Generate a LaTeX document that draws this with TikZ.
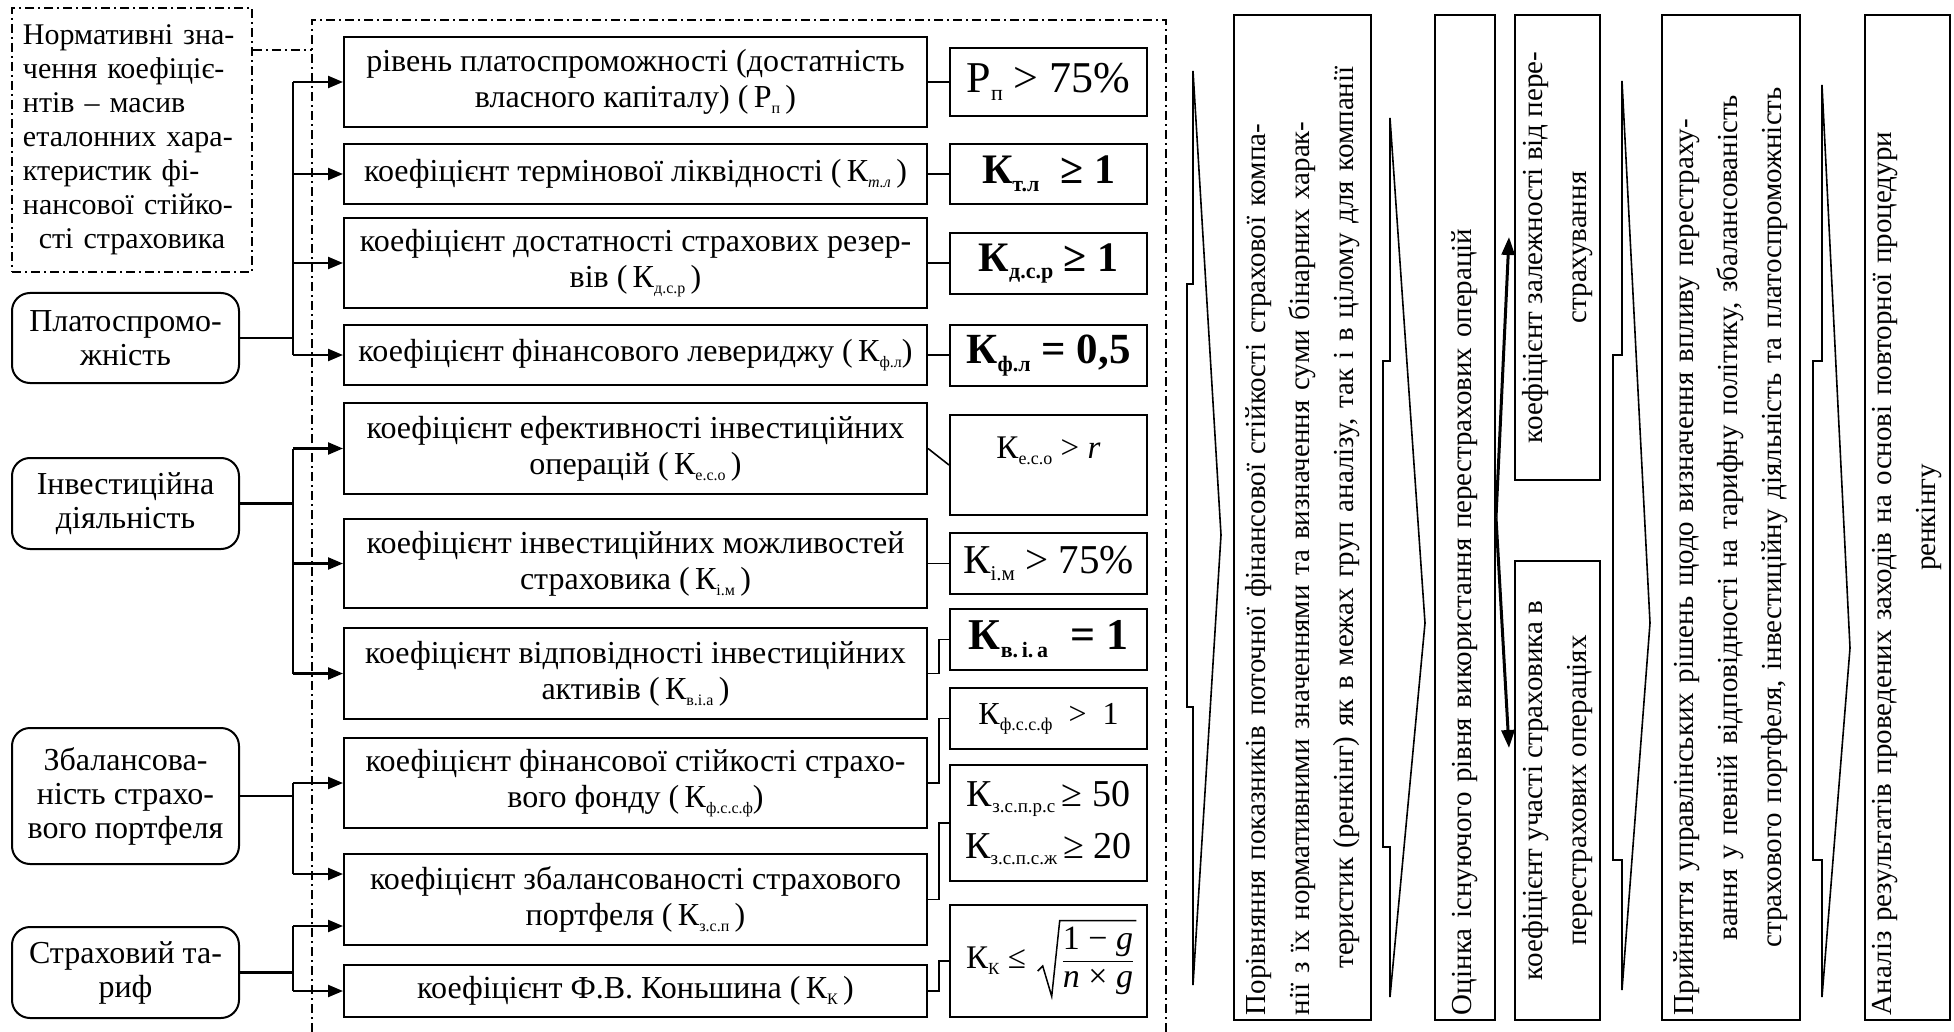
\documentclass[tikz,border=0pt]{standalone}
\usepackage{fontspec}
\setmainfont{Liberation Serif}
\usetikzlibrary{arrows.meta,calc}
% lowered small index of a coefficient symbol
\newcommand\subx[2][16]{\raisebox{-0.4ex}{\fontsize{#1}{#1}\selectfont #2}}
\newcommand\fsz[2]{\fontsize{#1}{#2}\selectfont}
% a justified line stretched over the whole text width
\newcommand\jl[1]{\makebox[\linewidth][s]{#1}}
\begin{document}
\begin{tikzpicture}[x=1pt,y=-1pt,
  box/.style={draw, line width=2pt, inner sep=2pt, align=center, font=\fsz{32}{36}},
  grp/.style={box, rounded corners=18pt, minimum width=227pt, font=\fsz{32}{34}},
  mid/.style={box, minimum width=583pt},
  val/.style={box, minimum width=197pt},
  side/.style={box, rotate=90, font=\fsz{29}{44}},
  frame/.style={line width=1.5pt, dash pattern=on 9pt off 4pt on 2pt off 4pt},
  link/.style={line width=2.3pt},
  thin/.style={line width=1.6pt},
  arr/.style={link, -{Triangle[length=15pt,width=12pt]}},
  fork/.style={line width=3pt, -{Triangle[length=18pt,width=13pt]}},
  chev/.style={line width=1.6pt, line join=miter},
  radical/.style={line width=1.5pt, line join=miter}]
\fill[white] (0,0) rectangle (1954,1032);
\useasboundingbox (0,0) rectangle (1954,1032);

% reference values and the four groups of indicators
\node[box, frame, minimum width=240pt, minimum height=264pt, text width=218pt, font=\fsz{30}{34}] (norm) at (132,140)
  {\jl{Нормативні зна-}\\\jl{чення коефіціє-}\\\jl{нтів – масив}\\\jl{еталонних хара-}\\\jl{ктеристик фі-}\\\jl{нансової стійко-}\\сті страховика};
\node[grp, minimum height=90pt] (g1) at (125.5,338) {Платоспромо-\\жність};
\node[grp, minimum height=91pt] (g2) at (125.5,503.5) {Інвестиційна\\діяльність};
\node[grp, minimum height=136pt] (g3) at (125.5,796) {Збалансова-\\ність страхо-\\вого портфеля};
\node[grp, minimum height=91pt] (g4) at (125.5,972.5) {Страховий та-\\риф};

% coefficients
\node[mid, minimum height=90pt] (m1) at (635.5,82) {рівень платоспроможності (достатність\\власного капіталу) (\,Р\subx{п}\,)};
\node[mid, minimum height=60pt] (m2) at (635.5,174) {коефіцієнт термінової ліквідності (\,К\subx{\itshape т.л}\,)};
\node[mid, minimum height=90pt] (m3) at (635.5,263) {коефіцієнт достатності страхових резер-\\вів (\,К\subx{д.с.р}\,)};
\node[mid, minimum height=60pt] (m4) at (635.5,355) {коефіцієнт фінансового левериджу (\,К\subx{ф.л})};
\node[mid, minimum height=91pt] (m5) at (635.5,448.5) {коефіцієнт ефективності інвестиційних\\операцій (\,К\subx{е.с.о}\,)};
\node[mid, minimum height=89pt] (m6) at (635.5,563.5) {коефіцієнт інвестиційних можливостей\\страховика (\,К\subx{і.м}\,)};
\node[mid, minimum height=91pt] (m7) at (635.5,673.5) {коефіцієнт відповідності інвестиційних\\активів (\,К\subx{в.і.а}\,)};
\node[mid, minimum height=90pt] (m8) at (635.5,783) {коефіцієнт фінансової стійкості страхо-\\вого фонду (\,К\subx{ф.с.с.ф})};
\node[mid, minimum height=91pt] (m9) at (635.5,899.5) {коефіцієнт збалансованості страхового\\портфеля (\,К\subx{з.с.п}\,)};
\node[mid, minimum height=52pt] (m10) at (635.5,991) {коефіцієнт Ф.В. Коньшина (\,К\subx{К}\,)};

% normative values
\node[val, minimum height=68pt, font=\fsz{44}{44}] (v1) at (1048.5,82) {Р\subx[22]{п} > 75\%};
\node[val, minimum height=60pt, font=\fsz{42}{42}\bfseries] (v2) at (1048.5,174) {К\subx[22]{т.л}\ \ ≥ 1};
\node[val, minimum height=61pt, font=\fsz{42}{42}\bfseries] (v3) at (1048.5,263.5) {К\subx[22]{д.с.р} ≥ 1};
\node[val, minimum height=61pt, font=\fsz{43}{43}\bfseries] (v4) at (1048.5,355.5) {К\subx[22]{ф.л} = 0,5};
\node[val, minimum height=100pt, font=\fsz{33}{33}] (v5) at (1048.5,465) {\raisebox{34pt}{К\subx[18]{е.с.о} > \textit{r}}};
\node[val, minimum height=61pt, font=\fsz{41}{41}] (v6) at (1048.5,563.5) {К\subx[21]{і.м} > 75\%};
\node[val, minimum height=61pt, font=\fsz{44}{44}\bfseries] (v7) at (1048.5,639.5) {К\subx[22]{в.\,і.\,а}\ \ = 1};
\node[val, minimum height=61pt, font=\fsz{32}{32}] (v8) at (1048.5,718.5) {К\subx[18]{ф.с.с.ф}\ \ > \ 1};
\node[val, minimum height=116pt, font=\fsz{38}{52}] (v9) at (1048.5,823) {К\subx[19]{з.с.п.р.с}\,≥ 50\\К\subx[19]{з.с.п.с.ж}\,≥ 20};
\node[val, minimum height=112pt] (v10) at (1048.5,961) {};
% Konshyn bound: symbol, fraction and its root sign
\node[font=\fsz{33}{33}, inner sep=0pt] (v10k) at (996,961) {К\subx[17]{К} ≤};
\node[font=\fsz{34}{37}, inner sep=0pt] (v10f) at (1098,961)
  {\begin{tabular}{@{}c@{}}1 − \textit{g}\\\hline\textit{n} × \textit{g}\end{tabular}};
\draw[radical] ($(v10f.west)+(-25,10)$) -- ($(v10f.west)+(-20,5)$)
  -- ($(v10f.south west)+(-11,-2)$) -- ($(v10f.north west)+(-3,-3)$) -- ($(v10f.north east)+(3,-3)$);

% stages of the analysis
\node[side, minimum width=1005pt, minimum height=137pt, text width=995pt] (A) at (1302.5,517.5)
  {\jl{Порівняння показників поточної фінансової стійкості страхової компа-}\\\jl{нії з їх нормативними значеннями та визначення суми бінарних харак-}\\теристик (ренкінг) як в межах груп аналізу, так і в цілому для компанії};
\node[side, minimum width=1005pt, minimum height=60pt, text width=995pt, align=left] (B) at (1465,517.5)
  {Оцінка існуючого рівня використання перестрахових операцій};
\node[side, minimum width=465pt, minimum height=85pt] (C) at (1557.5,247.5) {коефіцієнт залежності від пере-\\страхування};
\node[side, minimum width=459pt, minimum height=85pt] (D) at (1557.5,790.5) {коефіцієнт участі страховика в\\перестрахових операціях};
\node[side, minimum width=1005pt, minimum height=138pt, text width=995pt] (E) at (1731,517.5)
  {\jl{Прийняття управлінських рішень щодо визначення впливу перестраху-}\\вання у певній відповідності на тарифну політику, збалансованість\\страхового портфеля, інвестиційну діяльність та платоспроможність};
\node[side, minimum width=1005pt, minimum height=85pt, text width=995pt] (F) at (1907.5,517.5)
  {\jl{Аналіз результатів проведених заходів на основі повторної процедури}\\ренкінгу};

% dash-dot frame round the coefficient block
\coordinate (ftl) at (312,20);
\coordinate (ftr) at (1166,20);
\coordinate (fbl) at (312,1032);
\coordinate (fbr) at (1166,1032);
\coordinate (fj) at (312,50);
\draw[frame] (fbl) -- (ftl) -- (ftr) -- (fbr);
\draw[frame] (norm.east |- fj) -- (fj);

% groups to coefficients
\path (g1.east) -- ++(53,0) coordinate (b1);
\draw[link] (g1.east) -- (b1);
\draw[link] (b1 |- m1.west) -- (b1 |- m4.west);
\foreach \m in {m1,m2,m3,m4} \draw[arr] (b1 |- \m.west) -- (\m.west);

\path (g2.east) -- ++(53,0) coordinate (b2);
\draw[link] (g2.east) -- (b2);
\draw[link] (b2 |- m5.west) -- (b2 |- m7.west);
\foreach \m in {m5,m6,m7} \draw[arr] (b2 |- \m.west) -- (\m.west);

\coordinate (p9a) at ($(m9.west)+(0,-25.5)$);
\coordinate (p9b) at ($(m9.west)+(0,26.5)$);
\path (g3.east) -- ++(53,0) coordinate (b3);
\draw[link] (g3.east) -- (b3);
\draw[link] (b3 |- m8.west) -- (b3 |- p9a);
\draw[arr] (b3 |- m8.west) -- (m8.west);
\draw[arr] (b3 |- p9a) -- (p9a);

\path (g4.east) -- ++(53,0) coordinate (b4);
\draw[link] (g4.east) -- (b4);
\draw[link] (b4 |- p9b) -- (b4 |- m10.west);
\draw[arr] (b4 |- p9b) -- (p9b);
\draw[arr] (b4 |- m10.west) -- (m10.west);

% coefficients to their normative values
\foreach \i in {1,2,3,4,6} \draw[thin] (m\i.east) -- (m\i.east -| v\i.west);
\draw[thin] (m5.east) -- (v5.west);
\foreach \i in {7,8,9,10} \draw[thin] (m\i.east) -- ++(11,0) |- (v\i.west);

% transition arrows between the stages
\draw[chev] (1193,71) -- (1221,535) -- (1193,985) -- (1193,707) -- (1187,707) -- (1187,284) -- (1193,284) -- cycle;
\draw[chev] (1390,118) -- (1425,623) -- (1390,997) -- (1390,847) -- (1383,847) -- (1383,361) -- (1390,361) -- cycle;
\draw[chev] (1622,81) -- (1650,623) -- (1622,990) -- (1622,860) -- (1613,860) -- (1613,355) -- (1622,355) -- cycle;
\draw[chev] (1822,85) -- (1850,648) -- (1822,997) -- (1822,860) -- (1813,860) -- (1813,361) -- (1822,361) -- cycle;

% reinsurance assessment splits into two coefficients
\coordinate (tc) at (1509,237);
\coordinate (td) at (1509,748);
\draw[fork] (B.south) -- (tc);
\draw[fork] (B.south) -- (td);
\end{tikzpicture}
\end{document}
